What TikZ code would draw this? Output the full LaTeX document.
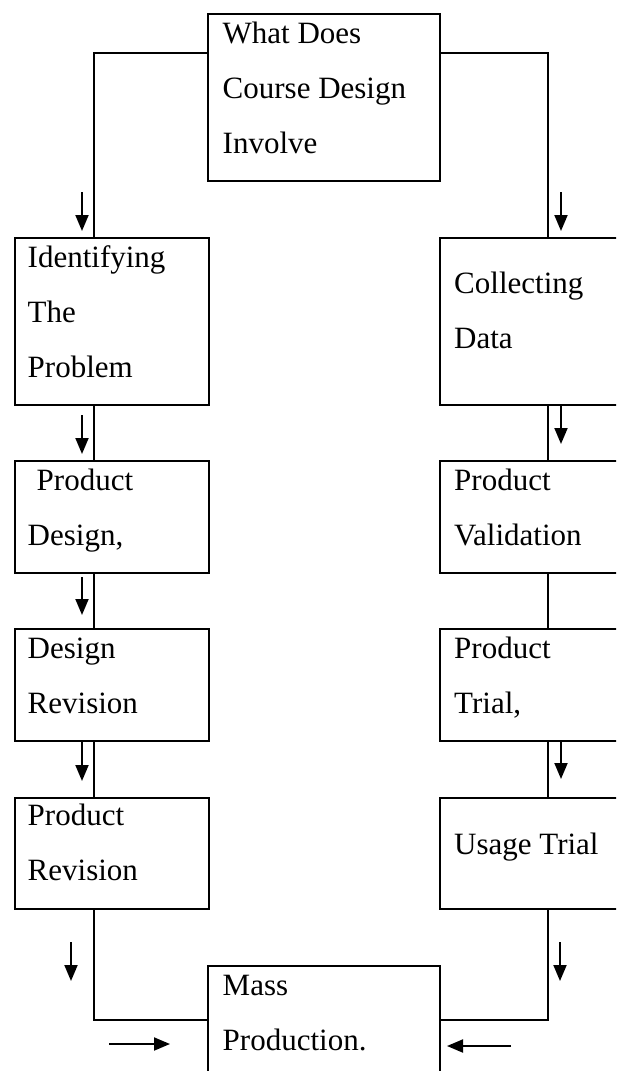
\documentclass[tikz,border=0pt]{standalone}
\usepackage{fontspec}
\setmainfont{Liberation Serif}
\usetikzlibrary{arrows.meta,calc}
\begin{document}
\begin{tikzpicture}[x=1pt,y=-1pt,
  box/.style={draw,line width=2.2pt,rectangle,anchor=north west,inner sep=0pt,minimum width=#1},
  box/.default=194pt,
  txt/.style={anchor=base west,inner sep=0pt,font=\fontsize{31}{55}\selectfont},
  conn/.style={line width=2.2pt},
  arr/.style={line width=1.9pt,-{Triangle[width=13pt,length=16pt]}}]
\useasboundingbox (0,0) rectangle (616,1071);
\clip (0,0) rectangle (616,1071);
% boxes
\node[box=232pt,minimum height=167pt] (top) at (207,13) {};
\node[box,minimum height=167pt] (l1) at (14,237) {};
\node[box=181pt,minimum height=167pt] (r1) at (439,237) {};
\node[box,minimum height=112pt] (l2) at (14,460) {};
\node[box=181pt,minimum height=112pt] (r2) at (439,460) {};
\node[box,minimum height=112pt] (l3) at (14,628) {};
\node[box=181pt,minimum height=112pt] (r3) at (439,628) {};
\node[box,minimum height=111pt] (l4) at (14,797) {};
\node[box=181pt,minimum height=111pt] (r4) at (439,797) {};
\node[box=232pt,minimum height=130pt] (bot) at (207,965) {};
% texts
\node[txt] (t1) at ($(top.north west)+(15.5,30)$) {What Does};
\node[txt] (t2) at ($(top.north west)+(15.5,85)$) {Course Design};
\node[txt] (t3) at ($(top.north west)+(15.5,140)$) {Involve};
\node[txt] (a1) at ($(l1.north west)+(13.5,30)$) {Identifying};
\node[txt] (a2) at ($(l1.north west)+(13.5,85)$) {The};
\node[txt] (a3) at ($(l1.north west)+(13.5,140)$) {Problem};
\node[txt] (b1) at ($(r1.north west)+(15,56)$) {Collecting};
\node[txt] (b2) at ($(r1.north west)+(15,111)$) {Data};
\node[txt] (c1) at ($(l2.north west)+(22.5,30)$) {Product};
\node[txt] (c2) at ($(l2.north west)+(13.5,85)$) {Design,};
\node[txt] (d1) at ($(r2.north west)+(15,30)$) {Product};
\node[txt] (d2) at ($(r2.north west)+(15,85)$) {Validation};
\node[txt] (e1) at ($(l3.north west)+(13.5,30)$) {Design};
\node[txt] (e2) at ($(l3.north west)+(13.5,85)$) {Revision};
\node[txt] (f1) at ($(r3.north west)+(15,30)$) {Product};
\node[txt] (f2) at ($(r3.north west)+(15,85)$) {Trial,};
\node[txt] (g1) at ($(l4.north west)+(13.5,28)$) {Product};
\node[txt] (g2) at ($(l4.north west)+(13.5,83)$) {Revision};
\node[txt] (h1) at ($(r4.north west)+(15,57)$) {Usage Trial};
\node[txt] (m1) at ($(bot.north west)+(15.5,30)$) {Mass};
\node[txt] (m2) at ($(bot.north west)+(15.5,85)$) {Production.};
% connectors
\draw[conn] ($(top.north west)+(0,40)$) -| ($(l1.north west)+(80,0)$);
\draw[conn] ($(top.north east)+(0,40)$) -| ($(r1.north west)+(109,0)$);
\draw[conn] ($(l1.south west)+(80,0)$) -- ($(l2.north west)+(80,0)$);
\draw[conn] ($(l2.south west)+(80,0)$) -- ($(l3.north west)+(80,0)$);
\draw[conn] ($(l3.south west)+(80,0)$) -- ($(l4.north west)+(80,0)$);
\draw[conn] ($(r1.south west)+(109,0)$) -- ($(r2.north west)+(109,0)$);
\draw[conn] ($(r2.south west)+(109,0)$) -- ($(r3.north west)+(109,0)$);
\draw[conn] ($(r3.south west)+(109,0)$) -- ($(r4.north west)+(109,0)$);
\draw[conn] ($(l4.south west)+(80,0)$) |- ($(bot.north west)+(0,55)$);
\draw[conn] ($(r4.south west)+(109,0)$) |- ($(bot.north east)+(0,55)$);
% free arrows
\coordinate (p1) at (82,192); \coordinate (q1) at (82,231);
\coordinate (p2) at (561,192); \coordinate (q2) at (561,231);
\coordinate (p3) at (82,415); \coordinate (q3) at (82,454);
\coordinate (p4) at (561,405); \coordinate (q4) at (561,444);
\coordinate (p5) at (82,577); \coordinate (q5) at (82,615);
\coordinate (p6) at (82,742); \coordinate (q6) at (82,781);
\coordinate (p7) at (561,742); \coordinate (q7) at (561,779);
\coordinate (p8) at (71,942); \coordinate (q8) at (71,981);
\coordinate (p9) at (560,942); \coordinate (q9) at (560,981);
\coordinate (p10) at (109,1044); \coordinate (q10) at (170,1044);
\coordinate (p11) at (511,1046); \coordinate (q11) at (447,1046);
\foreach \i in {1,...,11} {\draw[arr] (p\i) -- (q\i);}
\end{tikzpicture}
\end{document}
